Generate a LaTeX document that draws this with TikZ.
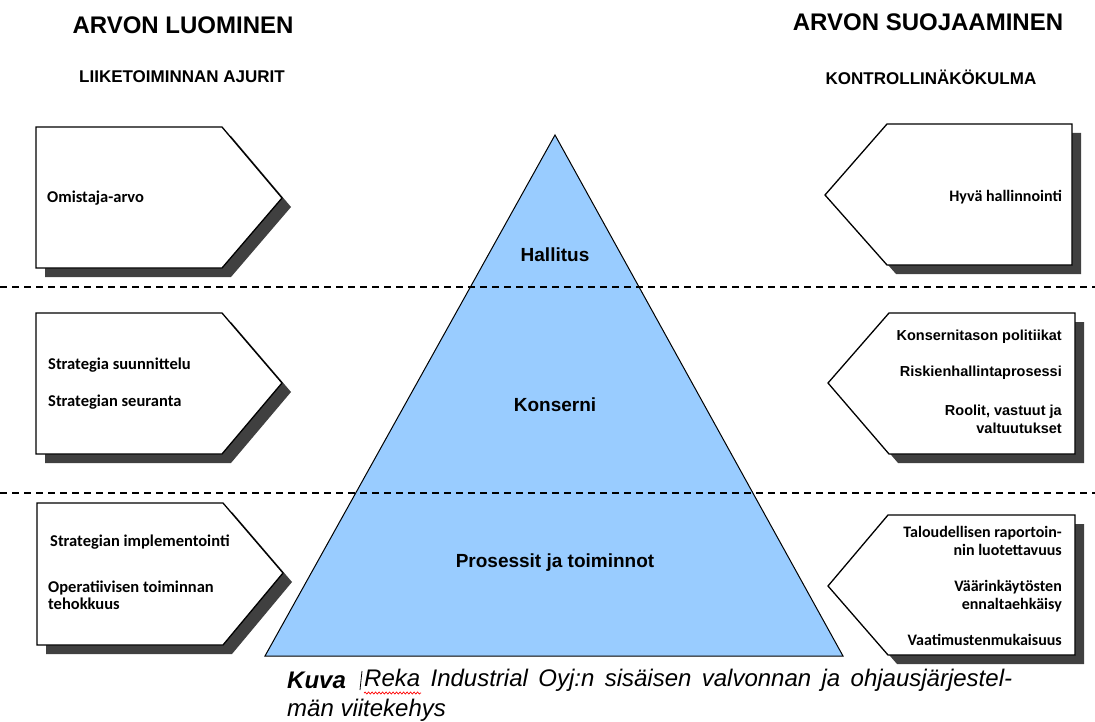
\documentclass[tikz,border=0pt]{standalone}
\usepackage{fontspec}
\setmainfont{Liberation Sans}
\newfontfamily\calfont{Carlito}
\usetikzlibrary{shadows,decorations.pathmorphing}
\definecolor{pyramidblue}{HTML}{99CCFF}
\definecolor{boxshadow}{HTML}{404040}

\begin{document}
\begin{tikzpicture}
		[x=1pt, y=-1pt,
		every node/.style={inner sep=0pt},
		head/.style={font=\bfseries\fontsize{24}{28}\selectfont},
		subhead/.style={font=\bfseries\fontsize{17}{20}\selectfont},
		leftnote/.style={anchor=west, align=left, font=\calfont\bfseries\fontsize{16.5}{17}\selectfont},
		rightnote/.style={anchor=east, align=right, font=\calfont\bfseries\fontsize{16}{18}\selectfont},
		rightarial/.style={anchor=east, align=right, font=\bfseries\fontsize{14.5}{18}\selectfont},
		levelname/.style={font=\bfseries\fontsize{19}{22}\selectfont},
		arrowbox/.style={draw=black, line width=1.3pt, fill=white,
			drop shadow={shadow xshift=9pt, shadow yshift=-9pt, opacity=1, fill=boxshadow}},
		pyramid/.style={draw=black, line width=1pt, fill=pyramidblue, line join=miter},
		sepline/.style={dashed, dash pattern=on 7pt off 5pt, line width=1.8pt},
		caption/.style={anchor=west, font=\itshape\fontsize{24}{28}\selectfont}]
		\useasboundingbox (0,0) rectangle (1095,722);
		\node (luominen) [head] at (183,25) {ARVON LUOMINEN};
		\node (ajurit) [subhead] at (182,77) {LIIKETOIMINNAN AJURIT};
		\node (suojaaminen) [head] at (928,22) {ARVON SUOJAAMINEN};
		\node (kontrolli) [subhead] at (931,77) {KONTROLLINÄKÖKULMA};
		\filldraw [pyramid] (555,135) -- (843,656) -- (265,656) -- cycle;
		\draw [sepline] (0,287) -- (1095,287);
		\draw [sepline] (0,493) -- (1095,493);
		\filldraw [arrowbox] (36,127) -- (222,127) -- (282,198) -- (222,268) -- (36,268) -- cycle;
		\filldraw [arrowbox] (36,313) -- (222,313) -- (282,383) -- (222,454) -- (36,454) -- cycle;
		\filldraw [arrowbox] (37,503) -- (223,503) -- (283,573) -- (223,645) -- (37,645) -- cycle;
		\filldraw [arrowbox] (825,195) -- (887,124) -- (1072,124) -- (1072,265) -- (887,265) -- cycle;
		\filldraw [arrowbox] (828,383) -- (889,313) -- (1075,313) -- (1075,454) -- (889,454) -- cycle;
		\filldraw [arrowbox] (828,586) -- (888,515) -- (1075,515) -- (1075,655) -- (888,655) -- cycle;
		\node (hallitus) [levelname] at (555,255) {Hallitus};
		\node (konserni) [levelname] at (555,405) {Konserni};
		\node (prosessit) [levelname] at (555,563) {Prosessit ja toiminnot};
		\node (omistaja) [leftnote] at (47,198) {Omistaja-arvo};
		\node (suunnittelu) [leftnote] at (48,365) {Strategia suunnittelu};
		\node (seuranta) [leftnote] at (48,402) {Strategian seuranta};
		\node (implement) [leftnote] at (50,542) {Strategian implementointi};
		\node (tehokkuus) [leftnote] at (48,595) {Operatiivisen toiminnan\\tehokkuus};
		\node (hyva) [rightnote] at (1062,197) {Hyvä hallinnointi};
		\node (politiikat) [rightarial] at (1062,337) {Konsernitason politiikat};
		\node (riskit) [rightarial] at (1062,373) {Riskienhallintaprosessi};
		\node (roolit) [rightarial] at (1062,419) {Roolit, vastuut ja\\valtuutukset};
		\node (raportointi) [rightnote] at (1062,541) {Taloudellisen raportoin-\\nin luotettavuus};
		\node (vaarinkaytos) [rightnote] at (1062,596) {Väärinkäytösten\\ennaltaehkäisy};
		\node (vaatimukset) [rightnote] at (1062,640) {Vaatimustenmukaisuus};
		\node (kuva) [caption] at (287,680) {\bfseries Kuva};
		\draw [line width=0.8pt] (362,671) -- (360,690);
		\node (otsikko) [caption] at (364,680) {\makebox[648pt][s]{Reka Industrial Oyj:n sisäisen valvonnan ja ohjausjärjestel-}};
		\node (otsikko2) [caption] at (287,710) {män viitekehys};
		\draw [red, line width=0.7pt, decorate, decoration={snake, amplitude=1pt, segment length=3.5pt}] (364,693) -- (421,693);
	\end{tikzpicture}
\end{document}
